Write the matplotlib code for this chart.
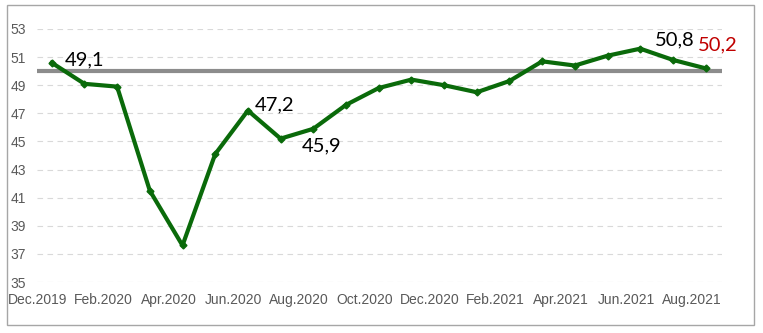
import matplotlib
matplotlib.use("Agg")
import matplotlib.pyplot as plt
import matplotlib.transforms as mtransforms
from matplotlib.patches import Rectangle

months = ["Dec.2019", "Jan.2020", "Feb.2020", "Mar.2020", "Apr.2020", "May.2020",
          "Jun.2020", "Jul.2020", "Aug.2020", "Sep.2020", "Oct.2020", "Nov.2020",
          "Dec.2020", "Jan.2021", "Feb.2021", "Mar.2021", "Apr.2021", "May.2021",
          "Jun.2021", "Jul.2021", "Aug.2021"]
values = [50.6, 49.1, 48.9, 41.5, 37.6, 44.1, 47.2, 45.2, 45.9, 47.6, 48.8, 49.4,
          49.0, 48.5, 49.3, 50.7, 50.4, 51.1, 51.6, 50.8, 50.2]
threshold = 50
yticks = list(range(35, 54, 2))
# labelled points: (index, text, colour)
labelled = [(1, "49,1", "black"), (6, "47,2", "black"), (8, "45,9", "black"),
            (19, "50,8", "black"), (20, "50,2", "#c00000")]

W, H = 763, 333
fig = plt.figure(figsize=(W / 100, H / 100), dpi=100)
ax = fig.add_axes([37 / W, 1 - 282 / H, (722 - 37) / W, 253 / H])

x = list(range(len(months)))
ax.set_xlim(-0.45, len(months) - 0.5)
ax.set_ylim(35, 53)

for y in yticks:
    ax.axhline(y, color="#d9d9d9", lw=0.8, ls=(0, (5, 4)), zorder=1)
ax.axhline(threshold, color="#8c8c8c", lw=3.0, zorder=2)

ax.plot(x, values, color="#0a6a0a", lw=3.0, marker="D", markersize=3.5,
        solid_joinstyle="round", zorder=3)

ax.set_yticks(yticks)
ax.set_yticklabels([str(v) for v in yticks])
ax.set_xticks(x[::2])
ax.set_xticklabels(months[::2])
ax.tick_params(length=0, labelsize=10, labelcolor="#595959")
ax.tick_params(axis="y", pad=8)
ax.tick_params(axis="x", pad=8)
for lbl in ax.get_xticklabels() + ax.get_yticklabels():
    lbl.set_fontfamily("Liberation Sans")
offset = mtransforms.ScaledTranslation(-14 / 100, 0, fig.dpi_scale_trans)
for lbl in ax.get_xticklabels():
    lbl.set_transform(lbl.get_transform() + offset)

for s in ax.spines.values():
    s.set_visible(False)

offsets = {1: (0, 24), 6: (27, 6), 8: (8, -17), 19: (2, 20), 20: (12, 23)}
for i, txt, col in labelled:
    dx, dy = offsets[i]
    ax.annotate(txt, (x[i], values[i]), xytext=(dx, dy), textcoords="offset pixels",
                ha="center", va="center", fontsize=14.5, color=col, family="Lato",
                zorder=4)

fig.patches.append(Rectangle((7 / W, 1 - 325 / H), (754 - 7) / W, 320 / H,
                             transform=fig.transFigure, fill=False,
                             edgecolor="#a6a6a6", lw=1.0))

fig.savefig("out.png", dpi=100)
